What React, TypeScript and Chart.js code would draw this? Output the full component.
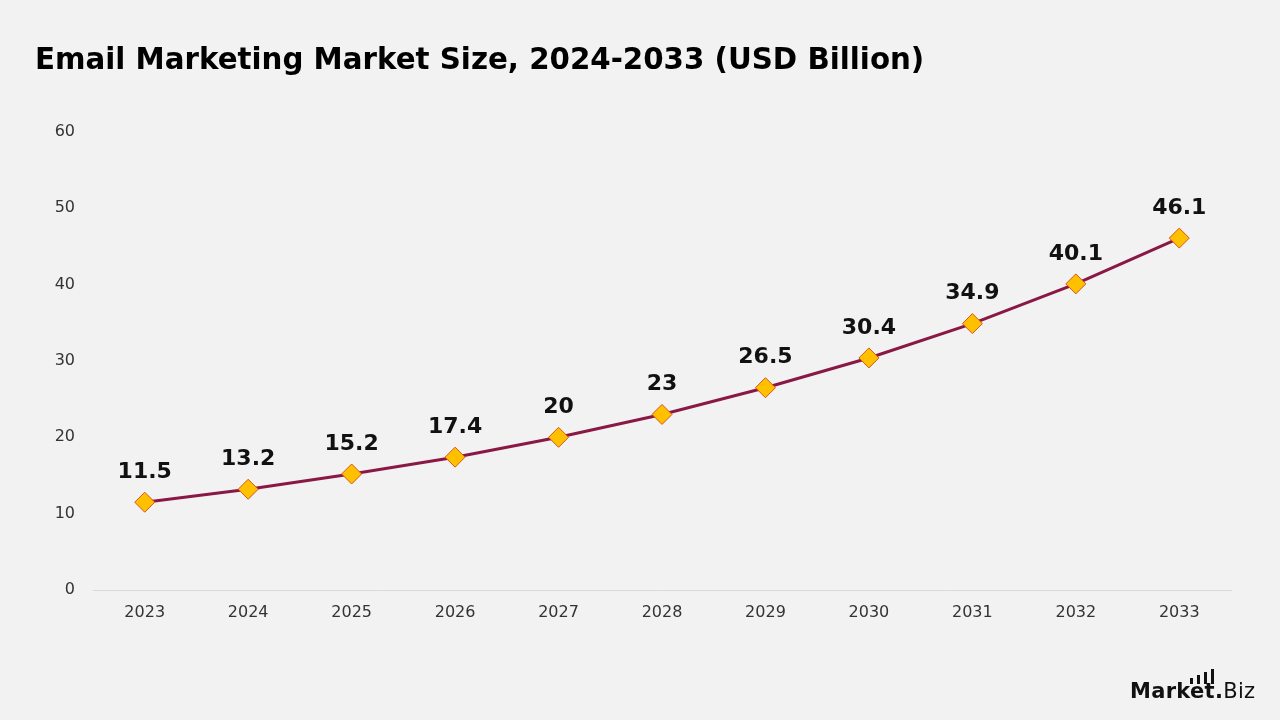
import React, { useEffect, useRef } from "react";
import { Chart, registerables } from "chart.js";

Chart.register(...registerables);

const TITLE = "Email Marketing Market Size, 2024-2033 (USD Billion)";
const YEARS = ["2023", "2024", "2025", "2026", "2027", "2028", "2029", "2030", "2031", "2032", "2033"];
const MARKET_SIZE = [11.5, 13.2, 15.2, 17.4, 20, 23, 26.5, 30.4, 34.9, 40.1, 46.1];
const Y_MIN = 0;
const Y_MAX = 60;
const Y_STEP = 10;

const FONT = "'DejaVu Sans', 'Noto Sans', sans-serif";

const dataLabelPlugin = {
  id: "dataLabels",
  afterDatasetsDraw(chart: any) {
    const ctx = chart.ctx;
    const meta = chart.getDatasetMeta(0);
    ctx.save();
    ctx.font = `bold 22px ${FONT}`;
    ctx.fillStyle = "#111111";
    ctx.textAlign = "center";
    ctx.textBaseline = "middle";
    meta.data.forEach((pt: any, i: number) => {
      const v = chart.data.datasets[0].data[i];
      ctx.fillText(String(v), pt.x, pt.y - 30);
    });
    ctx.restore();
  },
};

export default function App() {
  const canvasRef = useRef<HTMLCanvasElement | null>(null);

  useEffect(() => {
    if (!canvasRef.current) return;
    const chart = new Chart(canvasRef.current, {
      type: "line",
      data: {
        labels: YEARS,
        datasets: [
          {
            label: "Market Size",
            data: MARKET_SIZE,
            borderColor: "#8a1845",
            borderWidth: 3,
            pointStyle: "rectRot",
            pointRadius: 10,
            pointHoverRadius: 10,
            pointBackgroundColor: "#ffc000",
            pointBorderColor: "#d4541a",
            pointBorderWidth: 1,
            tension: 0,
          },
        ],
      },
      options: {
        responsive: false,
        animation: false,
        events: [],
        layout: { padding: { left: 0, right: 49, top: 132, bottom: 0 } },
        plugins: {
          legend: { display: false },
          tooltip: { enabled: false },
          title: { display: false },
        },
        scales: {
          x: {
            offset: true,
            grid: { display: false, drawTicks: false },
            border: { display: true, color: "#d9d9d9", width: 1 },
            ticks: {
              padding: 13,
              color: "#333333",
              font: { family: FONT, size: 16 },
            },
            afterFit(scale: any) {
              scale.height = 130;
            },
          },
          y: {
            min: Y_MIN,
            max: Y_MAX,
            grid: { display: false, drawTicks: false },
            border: { display: false },
            ticks: {
              stepSize: Y_STEP,
              padding: 18,
              color: "#333333",
              font: { family: FONT, size: 16 },
            },
            afterFit(scale: any) {
              scale.width = 93;
            },
          },
        },
      },
      plugins: [dataLabelPlugin],
    });
    return () => chart.destroy();
  }, []);

  return (
    <div
      style={{
        position: "fixed",
        left: 0,
        top: 0,
        width: 1280,
        height: 720,
        background: "#f2f2f2",
        overflow: "hidden",
      }}
    >
      <canvas ref={canvasRef} width={1280} height={720} style={{ position: "absolute", left: 0, top: 0 }} />
      <div
        style={{
          position: "absolute",
          left: 35,
          top: 39,
          fontFamily: FONT,
          fontWeight: 700,
          fontSize: 29.3,
          color: "#000",
          whiteSpace: "nowrap",
          lineHeight: "40px",
        }}
      >
        {TITLE}
      </div>
      <div
        style={{
          position: "absolute",
          left: 1130,
          top: 679,
          fontFamily: FONT,
          fontSize: 21,
          letterSpacing: "0.3px",
          color: "#111",
          whiteSpace: "nowrap",
          lineHeight: "24px",
        }}
      >
        <span style={{ fontWeight: 700 }}>Market</span>
        <span style={{ fontWeight: 700 }}>.</span>
        <span style={{ fontWeight: 400 }}>Biz</span>
      </div>
      {[
        [1190, 678],
        [1197, 675],
        [1204, 672],
        [1211, 669],
      ].map(([x, t], i) => (
        <div
          key={i}
          style={{
            position: "absolute",
            left: x,
            top: t,
            width: 3,
            height: 684 - t,
            background: "#111",
          }}
        />
      ))}
    </div>
  );
}
